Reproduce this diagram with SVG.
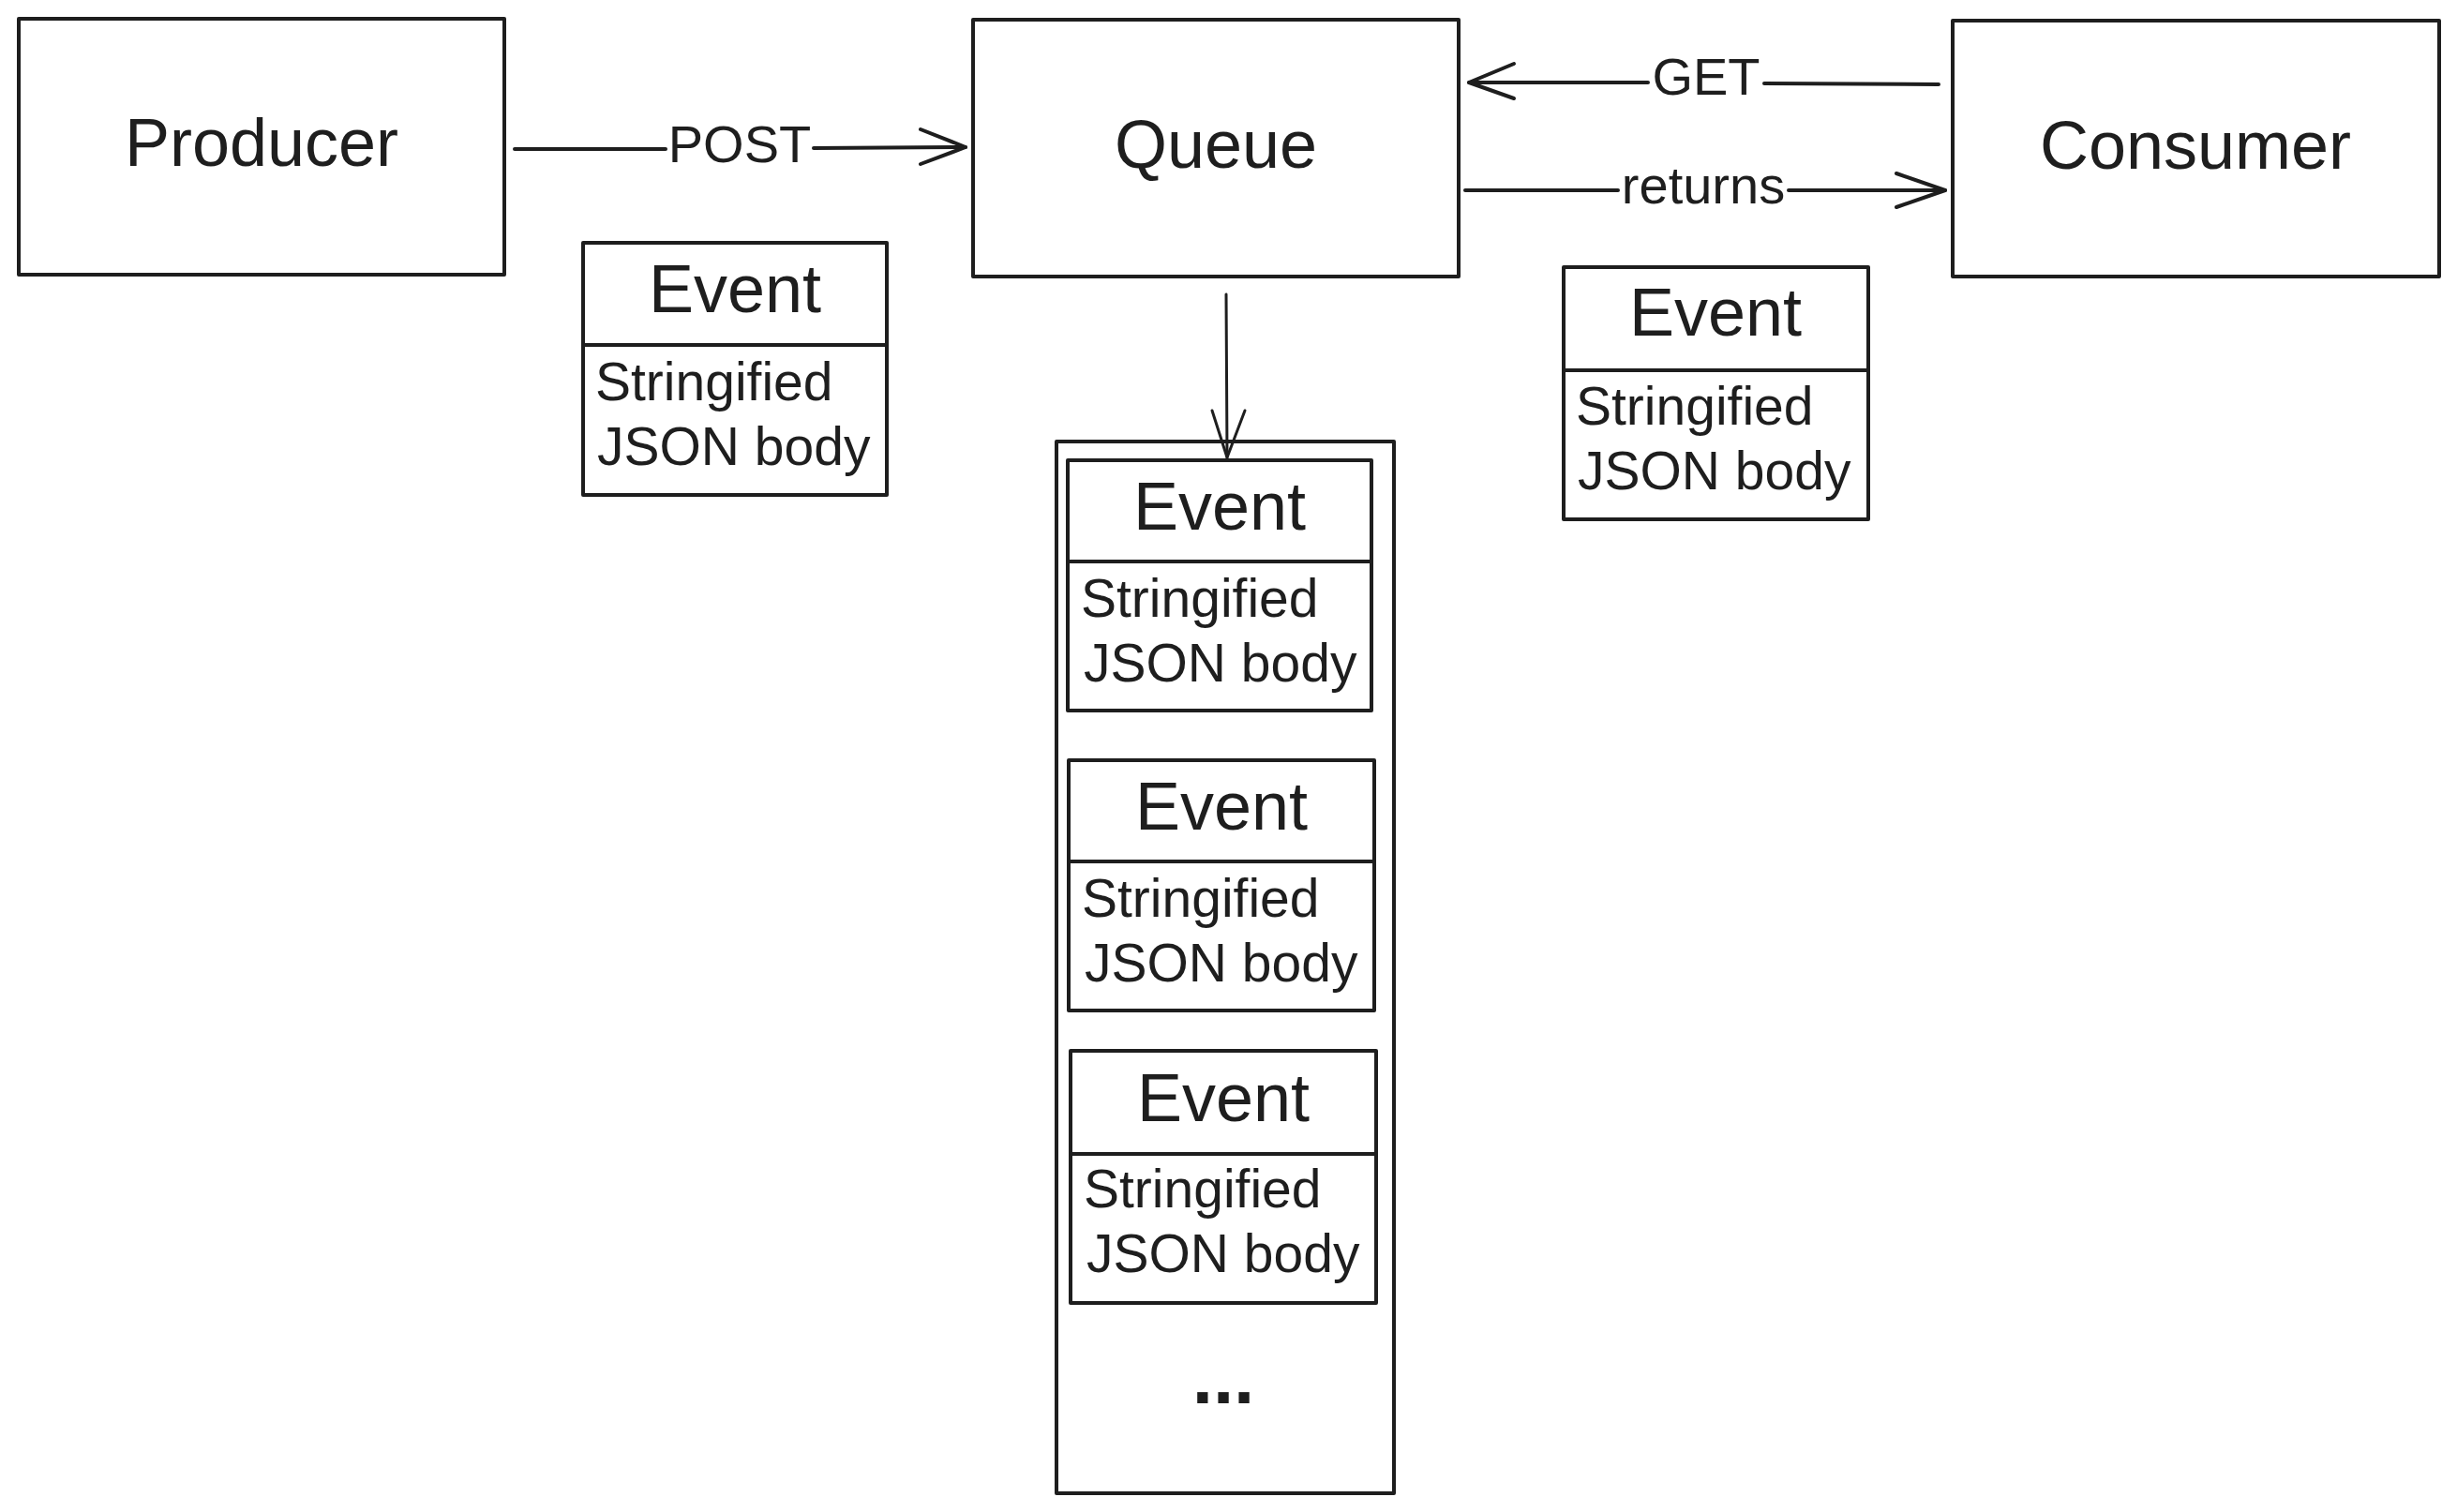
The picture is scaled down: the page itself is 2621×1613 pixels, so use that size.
<svg xmlns="http://www.w3.org/2000/svg" width="2621" height="1613" viewBox="0 0 2621 1613">
  <defs>
    <style>
      .box { fill: #ffffff; stroke: #1e1e1e; stroke-width: 4; stroke-linejoin: round; }
      .div { stroke: #1e1e1e; stroke-width: 4; fill: none; }
      .line { stroke: #1e1e1e; stroke-width: 4; fill: none; stroke-linecap: round; stroke-linejoin: round; }
      .thin { stroke: #1e1e1e; stroke-width: 3; fill: none; stroke-linecap: round; stroke-linejoin: round; }
      .big { font-family: 'Liberation Sans', Arial, sans-serif; font-size: 72px; fill: #1e1e1e; text-anchor: middle; }
      .lbl { font-family: 'Liberation Sans', Arial, sans-serif; font-size: 56px; fill: #1e1e1e; text-anchor: middle; }
      .body { font-family: 'Liberation Sans', Arial, sans-serif; font-size: 57px; fill: #1e1e1e; }
      .dots { font-family: 'Liberation Sans', Arial, sans-serif; font-size: 80px; font-weight: bold; fill: #1e1e1e; text-anchor: middle; }
    </style>
  </defs>
  <rect x="0" y="0" width="2621" height="1613" fill="#ffffff"/>

  <g id="producer">
    <rect class="box" x="20" y="20" width="518" height="273"/>
    <text class="big" x="279" y="177">Producer</text>
  </g>

  <g id="queue">
    <rect class="box" x="1038" y="21" width="518" height="274"/>
    <text class="big" x="1297" y="179">Queue</text>
  </g>

  <g id="consumer">
    <rect class="box" x="2083" y="22" width="519" height="273"/>
    <text class="big" x="2342" y="180">Consumer</text>
  </g>

  <g id="event-post">
    <rect class="box" x="622" y="259" width="324" height="269"/>
    <line class="div" x1="622" y1="368" x2="946" y2="368"/>
    <text class="big" x="784" y="333">Event</text>
    <text class="body" x="635" y="427">Stringified</text>
    <text class="body" x="637" y="496">JSON body</text>
  </g>

  <g id="event-returns">
    <rect class="box" x="1668" y="285" width="325" height="269"/>
    <line class="div" x1="1668" y1="395" x2="1993" y2="395"/>
    <text class="big" x="1830" y="358">Event</text>
    <text class="body" x="1681" y="453">Stringified</text>
    <text class="body" x="1683" y="522">JSON body</text>
  </g>

  <g id="queue-store">
    <rect class="box" x="1127" y="471" width="360" height="1122"/>
  </g>

  <g id="event-1">
    <rect class="box" x="1139" y="491" width="324" height="267"/>
    <line class="div" x1="1139" y1="599" x2="1463" y2="599"/>
    <text class="big" x="1301" y="565">Event</text>
    <text class="body" x="1153" y="658">Stringified</text>
    <text class="body" x="1156" y="727">JSON body</text>
  </g>

  <g id="event-2">
    <rect class="box" x="1140" y="811" width="326" height="267"/>
    <line class="div" x1="1140" y1="919" x2="1466" y2="919"/>
    <text class="big" x="1303" y="885">Event</text>
    <text class="body" x="1154" y="978">Stringified</text>
    <text class="body" x="1157" y="1047">JSON body</text>
  </g>

  <g id="event-3">
    <rect class="box" x="1142" y="1121" width="326" height="269"/>
    <line class="div" x1="1142" y1="1231" x2="1468" y2="1231"/>
    <text class="big" x="1305" y="1196">Event</text>
    <text class="body" x="1156" y="1288">Stringified</text>
    <text class="body" x="1159" y="1357">JSON body</text>
  </g>

  <g id="more">
    <text class="dots" x="1305" y="1497">...</text>
  </g>

  <g id="connectors">
    <g id="edge-post">
      <line class="line" x1="549" y1="159" x2="710" y2="159"/>
      <line class="line" x1="868" y1="158" x2="1030" y2="157"/>
      <polyline class="line" points="982,138 1030,157 982,175"/>
      <text class="lbl" x="789" y="173">POST</text>
    </g>
    <g id="edge-get">
      <line class="line" x1="2068" y1="90" x2="1882" y2="89"/>
      <line class="line" x1="1758" y1="88" x2="1567" y2="88"/>
      <polyline class="line" points="1615,68 1567,88 1615,105"/>
      <text class="lbl" x="1820" y="101">GET</text>
    </g>
    <g id="edge-returns">
      <line class="line" x1="1563" y1="203" x2="1726" y2="203"/>
      <line class="line" x1="1908" y1="203" x2="2075" y2="203"/>
      <polyline class="line" points="2023,185 2075,203 2023,221"/>
      <text class="lbl" x="1817" y="217">returns</text>
    </g>
    <g id="edge-store">
      <line class="thin" x1="1308" y1="314" x2="1309" y2="488"/>
      <polyline class="thin" points="1293,438 1309,488 1328,438"/>
    </g>
  </g>
</svg>
